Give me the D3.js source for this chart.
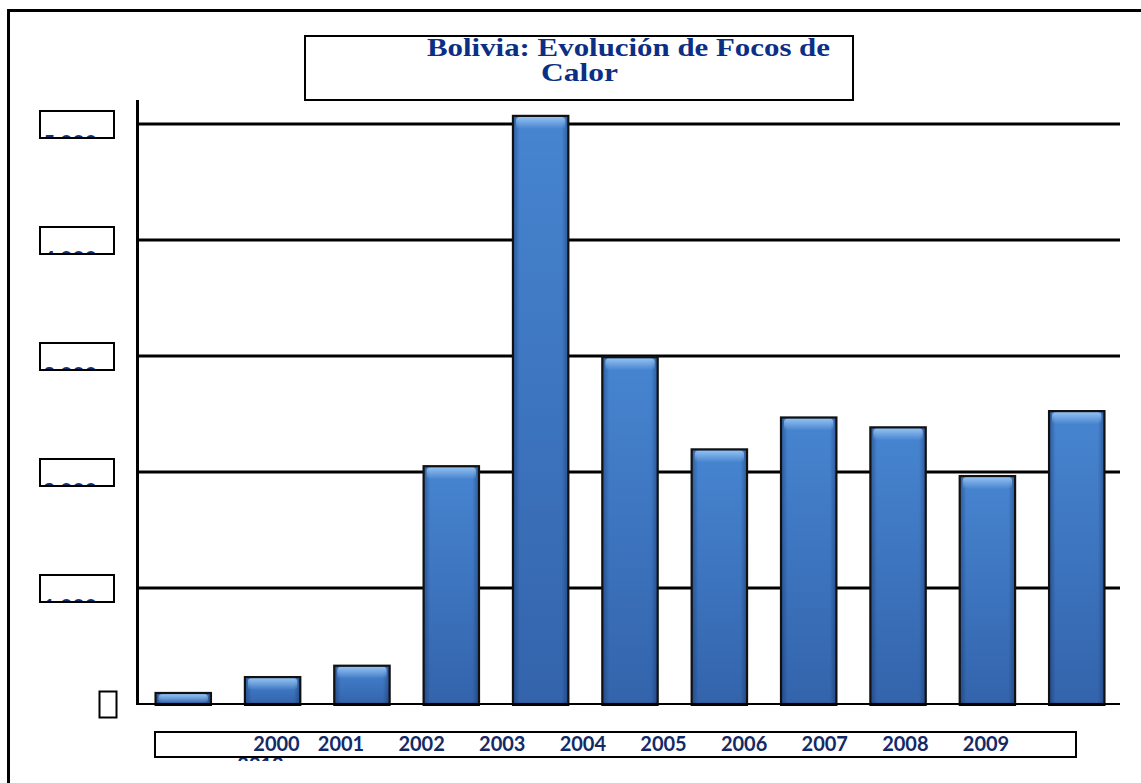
<!DOCTYPE html>
<html><head><meta charset="utf-8">
<script src="https://cdn.jsdelivr.net/npm/d3@7"></script>
<style>html,body{margin:0;padding:0;background:#fff;}svg{display:block;}
.title{font-family:"Liberation Serif","Tinos","DejaVu Serif",serif;font-weight:bold;}</style>
</head><body>
<script>
// ---- data ----
const categories = ["2000","2001","2002","2003","2004","2005","2006","2007","2008","2009","2010"];
const values = [95, 232, 330, 2050, 5070, 2990, 2195, 2470, 2385, 1965, 2525];
const yTicks = [1000, 2000, 3000, 4000, 5000];
const xLabels = ["2000","2001","2002","2003","2004","2005","2006","2007","2008","2009"];
const xLabelSlots = [0.2, 1, 2, 3, 4, 5, 6, 7, 8, 9];
const wrappedLabel = "2010";
const titleLines = ["Bolivia: Evolución de Focos de", "Calor"];

const W = 1141, H = 783;
const svg = d3.select("body").append("svg").attr("width", W).attr("height", H);
const defs = svg.append("defs");

// gradients
const gv = defs.append("linearGradient").attr("id","gv").attr("x1",0).attr("y1",0).attr("x2",0).attr("y2",1);
gv.append("stop").attr("offset","0%").attr("stop-color","#4a8ad8");
gv.append("stop").attr("offset","100%").attr("stop-color","#3567b0");
const gh = defs.append("linearGradient").attr("id","gh").attr("x1",0).attr("y1",0).attr("x2",1).attr("y2",0);
gh.append("stop").attr("offset","0%").attr("stop-color","#0b2350").attr("stop-opacity",0.45);
gh.append("stop").attr("offset","12%").attr("stop-color","#0b2350").attr("stop-opacity",0.05);
gh.append("stop").attr("offset","88%").attr("stop-color","#0b2350").attr("stop-opacity",0.05);
gh.append("stop").attr("offset","100%").attr("stop-color","#0b2350").attr("stop-opacity",0.45);
const gt = defs.append("linearGradient").attr("id","gt").attr("x1",0).attr("y1",0).attr("x2",0).attr("y2",1);
gt.append("stop").attr("offset","0%").attr("stop-color","#9cc8f5").attr("stop-opacity",0.9);
gt.append("stop").attr("offset","100%").attr("stop-color","#9cc8f5").attr("stop-opacity",0);

// outer frame
svg.append("path").attr("d",`M8.5,${H} L8.5,10.5 L${W},10.5`).attr("fill","none").attr("stroke","#000").attr("stroke-width",3);

// scales
const plotL = 140, plotR = 1120;
const x = d3.scaleBand().domain(categories).range([plotL, plotR]).paddingInner(0.38).paddingOuter(0.174);
const y = d3.scaleLinear().domain([0, 5000]).range([704, 124]);

// gridlines
svg.append("g").selectAll("line").data(yTicks).join("line")
  .attr("x1", 137).attr("x2", plotR).attr("y1", d=>y(d)).attr("y2", d=>y(d))
  .attr("stroke","#000").attr("stroke-width",3);
// baseline
svg.append("line").attr("x1",137).attr("x2",plotR).attr("y1",y(0)).attr("y2",y(0)).attr("stroke","#000").attr("stroke-width",2);
// y axis line
svg.append("line").attr("x1",137.5).attr("x2",137.5).attr("y1",100).attr("y2",y(0)+1).attr("stroke","#000").attr("stroke-width",3);

// bars
const bars = svg.append("g").selectAll("g").data(categories.map((c,i)=>({c, v: values[i]}))).join("g");
bars.append("rect").attr("x", d=>x(d.c)).attr("y", d=>y(d.v)).attr("width", x.bandwidth()).attr("height", d=>y(0)-y(d.v))
  .attr("fill","url(#gv)");
bars.append("rect").attr("x", d=>x(d.c)).attr("y", d=>y(d.v)).attr("width", x.bandwidth()).attr("height", d=>y(0)-y(d.v))
  .attr("fill","url(#gh)");
bars.append("rect").attr("x", d=>x(d.c)+3).attr("y", d=>y(d.v)+1).attr("width", x.bandwidth()-6).attr("height", d=>Math.min(12, y(0)-y(d.v)-2))
  .attr("rx",4).attr("fill","url(#gt)");
bars.append("rect").attr("x", d=>x(d.c)).attr("y", d=>y(d.v)).attr("width", x.bandwidth()).attr("height", d=>y(0)-y(d.v))
  .attr("fill","none").attr("stroke","#111").attr("stroke-width",2.2);
bars.append("line").attr("x1", d=>x(d.c)-1).attr("x2", d=>x(d.c)+x.bandwidth()+1).attr("y1", y(0)+0.5).attr("y2", y(0)+0.5)
  .attr("stroke","#000").attr("stroke-width",3);

// y tick label boxes (clipped text)
const yl = svg.append("g");
yTicks.forEach((t,i)=>{
  const cy = y(t);
  const bx = 40, bw = 74, by = cy - 13, bh = 27;
  defs.append("clipPath").attr("id","cl"+i).append("rect").attr("x",bx).attr("y",by).attr("width",bw).attr("height",bh);
  yl.append("text").attr("clip-path",`url(#cl${i})`)
    .attr("x", bx+3).attr("y", by+bh+12.3)
    .attr("font-family","Lato, sans-serif").attr("font-weight","bold").attr("font-size",21)
    .attr("fill","#14306e")
    .text(d3.format(",")(t).replace(",", " "));
  yl.append("rect").attr("x",bx).attr("y",by).attr("width",bw).attr("height",bh)
    .attr("fill","none").attr("stroke","#000").attr("stroke-width",2);
});
// zero label (rendered as missing glyph box)
yl.append("rect").attr("x",99.5).attr("y",y(0)-12.5).attr("width",17).attr("height",26)
  .attr("fill","none").attr("stroke","#000").attr("stroke-width",2);

// x label box
const lx = d3.scaleLinear().domain([1, 9]).range([341, 986]);
defs.append("clipPath").attr("id","xcl").append("rect").attr("x",150).attr("y",728).attr("width",930).attr("height",33);
const xg = svg.append("g").attr("clip-path","url(#xcl)");
xg.selectAll("text.xl").data(xLabels).join("text").attr("class","xl")
  .attr("x",(d,i)=>lx(xLabelSlots[i])).attr("y",751).attr("text-anchor","middle")
  .attr("font-family","Lato, sans-serif").attr("font-weight","bold").attr("font-size",20)
  .attr("fill","#132a68").text(d=>d);
xg.append("text").attr("x", lx(xLabelSlots[0]) - 16).attr("y", 772).attr("text-anchor","middle")
  .attr("font-family","Lato, sans-serif").attr("font-weight","bold").attr("font-size",20)
  .attr("fill","#132a68").text(wrappedLabel);
svg.append("rect").attr("x",155).attr("y",732).attr("width",921).attr("height",25)
  .attr("fill","none").attr("stroke","#000").attr("stroke-width",2);

// title box
svg.append("rect").attr("x",305).attr("y",36).attr("width",548).attr("height",64)
  .attr("fill","#fff").attr("stroke","#000").attr("stroke-width",2);
const tt = svg.append("text").attr("class","title")
  .attr("font-size",26).attr("fill","#0b2f85");
tt.append("tspan").attr("x",427).attr("y",56).attr("textLength",403).attr("lengthAdjust","spacingAndGlyphs").text(titleLines[0]);
tt.append("tspan").attr("x",541).attr("y",81).attr("textLength",77).attr("lengthAdjust","spacingAndGlyphs").text(titleLines[1]);
</script>
</body></html>
